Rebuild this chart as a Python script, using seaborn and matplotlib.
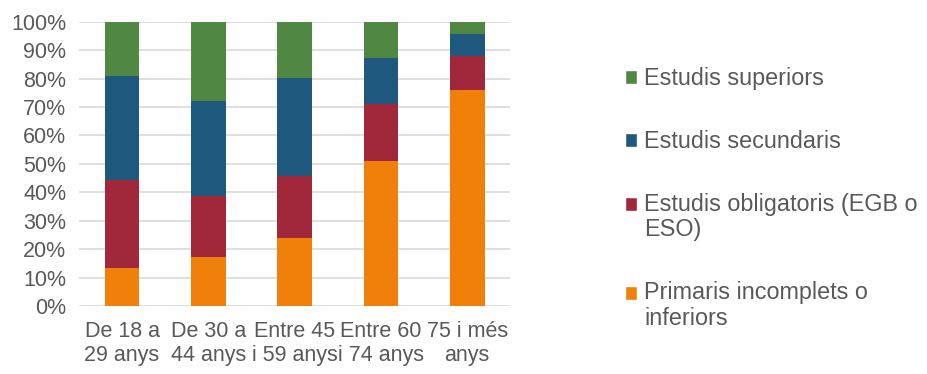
import numpy as np
import pandas as pd
import seaborn as sns
import matplotlib.pyplot as plt
from matplotlib.patches import Patch, Rectangle
from matplotlib.legend_handler import HandlerPatch
from matplotlib.ticker import PercentFormatter

# data (percent of each age group)
groups = ["De 18 a\n29 anys", "De 30 a\n44 anys", "Entre 45\ni 59 anys",
          "Entre 60\ni 74 anys", "75 i més\nanys"]
primaris = [13.3, 17.2, 23.9, 51.0, 75.8]
obligatoris = [30.9, 21.4, 21.8, 19.9, 12.3]
secundaris = [36.8, 33.4, 34.6, 16.5, 7.4]
superiors = [19.0, 28.0, 19.7, 12.6, 4.5]

series_names = ["Primaris incomplets o\ninferiors", "Estudis obligatoris (EGB o\nESO)",
                "Estudis secundaris", "Estudis superiors"]
colors = ["#F0800A", "#A0283A", "#1E587C", "#508742"]

sns.set_style("white")
plt.rcParams['font.family'] = ['Liberation Sans', 'DejaVu Sans']
gray = "#595959"
fs = 15.5
leg_fs = 16.8

df = pd.DataFrame({"group": groups, "p": primaris, "o": obligatoris,
                   "s": secundaris, "u": superiors})
# cumulative tops, drawn from the highest layer down
df["c_p"] = df["p"]
df["c_o"] = df["c_p"] + df["o"]
df["c_s"] = df["c_o"] + df["s"]
df["c_u"] = df["c_s"] + df["u"]

fig = plt.figure(figsize=(9.28, 3.74), dpi=100)
ax = fig.add_axes([0.085, 0.182, 0.465, 0.76])

for col, c in zip(["c_u", "c_s", "c_o", "c_p"], colors[::-1]):
    sns.barplot(data=df, x="group", y=col, color=c, width=0.4,
                saturation=1, ax=ax, zorder=3, linewidth=0)

ax.set_ylim(0, 100)
ax.set_xlim(-0.5, 4.5)
ax.set_yticks(np.arange(0, 101, 10))
ax.yaxis.set_major_formatter(PercentFormatter(decimals=0))
ax.grid(axis="y", color="#D9D9D9", linewidth=1.2, zorder=0)
ax.set_axisbelow(True)
for s in ax.spines.values():
    s.set_visible(False)
ax.set_xlabel("")
ax.set_ylabel("")
ax.tick_params(axis="both", length=0, labelsize=fs, labelcolor=gray)
ax.tick_params(axis="x", pad=11)
ax.tick_params(axis="y", pad=9)


# excel puts the legend square next to the first line of a wrapped label
def top_line_patch(legend, orig_handle, xdescent, ydescent, width, height, fontsize):
    return Rectangle((-xdescent, -ydescent + 0.58 * fontsize), width, height)


handles = [Patch(facecolor=c) for c in colors[::-1]]
hmap = {h: HandlerPatch(patch_func=top_line_patch)
        for h, lab in zip(handles, series_names[::-1]) if "\n" in lab}
leg = fig.legend(handles, series_names[::-1], loc="upper left",
                 bbox_to_anchor=(0.663, 0.845), frameon=False, fontsize=leg_fs,
                 labelcolor=gray, handlelength=0.55, handleheight=0.55,
                 handletextpad=0.3, labelspacing=1.7, borderaxespad=0,
                 handler_map=hmap)
for t in leg.get_texts():
    t.set_linespacing(1.15)

fig.savefig("out.png", dpi=100)
